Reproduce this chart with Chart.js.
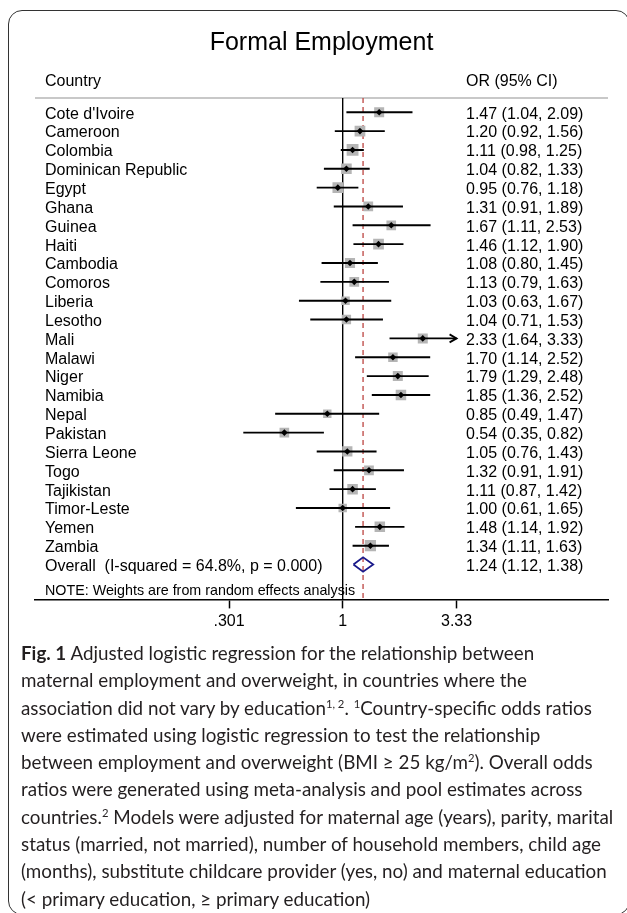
<!DOCTYPE html>
<html>
<head>
<meta charset="utf-8">
<script src="https://cdn.jsdelivr.net/npm/chart.js@4.4.1/dist/chart.umd.min.js"></script>
<style>
  html, body { margin: 0; padding: 0; background: #fff; width: 627px; height: 913px; overflow: hidden; position: relative; }
  #frame { position: absolute; left: 8px; top: 10px; width: 622px; height: 905px; border: 1.5px solid #333; border-radius: 14px; box-sizing: border-box; }
  #wrap { position: absolute; left: 0; top: 0; width: 627px; height: 640px; }
  #c { width: 627px; height: 640px; display: block; }
  #caption { position: absolute; left: 21px; top: 639px; font-family: Lato, "Open Sans", sans-serif; color: #231f20; line-height: 27.3px; white-space: nowrap; font-size: 20px; }
  #caption .ln { height: 27.3px; }
  #caption b { font-weight: 700; }
  #caption sup { font-size: 0.6em; line-height: 0; vertical-align: 0.65em; }
</style>
</head>
<body>
<div id="frame"></div>
<div id="wrap"><canvas id="c" width="627" height="640"></canvas></div>
<div id="caption">
  <div class="ln"><span><b>Fig. 1</b> Adjusted logistic regression for the relationship between</span></div>
  <div class="ln"><span>maternal employment and overweight, in countries where the</span></div>
  <div class="ln"><span>association did not vary by education<sup>1, 2</sup>. <sup>1</sup>Country-specific odds ratios</span></div>
  <div class="ln"><span>were estimated using logistic regression to test the relationship</span></div>
  <div class="ln"><span>between employment and overweight (BMI ≥ 25 kg/m<sup>2</sup>). Overall odds</span></div>
  <div class="ln"><span>ratios were generated using meta-analysis and pool estimates across</span></div>
  <div class="ln"><span>countries.<sup>2</sup> Models were adjusted for maternal age (years), parity, marital</span></div>
  <div class="ln"><span>status (married, not married), number of household members, child age</span></div>
  <div class="ln"><span id="fitLine">(months), substitute childcare provider (yes, no) and maternal education</span></div>
  <div class="ln"><span>(&lt; primary education, ≥ primary education)</span></div>
</div>
<script>
// ---------------- data ----------------
const countries = ["Cote d'Ivoire", "Cameroon", "Colombia", "Dominican Republic", "Egypt", "Ghana", "Guinea", "Haiti",
  "Cambodia", "Comoros", "Liberia", "Lesotho", "Mali", "Malawi", "Niger", "Namibia", "Nepal", "Pakistan",
  "Sierra Leone", "Togo", "Tajikistan", "Timor-Leste", "Yemen", "Zambia"];
const oddsRatios = [1.47, 1.20, 1.11, 1.04, 0.95, 1.31, 1.67, 1.46, 1.08, 1.13, 1.03, 1.04, 2.33, 1.70, 1.79, 1.85, 0.85, 0.54, 1.05, 1.32, 1.11, 1.00, 1.48, 1.34];
const ciLower = [1.04, 0.92, 0.98, 0.82, 0.76, 0.91, 1.11, 1.12, 0.80, 0.79, 0.63, 0.71, 1.64, 1.14, 1.29, 1.36, 0.49, 0.35, 0.76, 0.91, 0.87, 0.61, 1.14, 1.11];
const ciUpper = [2.09, 1.56, 1.25, 1.33, 1.18, 1.89, 2.53, 1.90, 1.45, 1.63, 1.67, 1.53, 3.33, 2.52, 2.48, 2.52, 1.47, 0.82, 1.43, 1.91, 1.42, 1.65, 1.92, 1.63];
// approximate random-effects weights (%)
const weights = [4.0, 4.6, 5.6, 4.5, 4.6, 3.8, 3.7, 4.6, 4.1, 3.8, 2.9, 3.5, 4.0, 3.6, 4.0, 4.4, 2.8, 3.7, 4.2, 3.8, 4.4, 2.8, 4.4, 5.0];
const overallOR = 1.24;
const overallLower = 1.12;
const overallUpper = 1.38;
const overallText = "Overall  (I-squared = 64.8%, p = 0.000)";
const noteText = "NOTE: Weights are from random effects analysis";
const headerLeft = "Country";
const headerRight = "OR (95% CI)";
const titleText = "Formal Employment";
const xTickValues = [0.301, 1, 3.33];
const xTickLabels = [".301", "1", "3.33"];

// ---------------- layout constants ----------------
const FONT = '"Liberation Sans", Arial, Helvetica, sans-serif';
const N = countries.length;
const OVERALL_ROW = N;          // 24
const NOTE_ROW = N + 1.3;
const HEADER_ROW = -1.75;
const RULE_ROW = -0.762;
const Y_MIN = -2.3, Y_MAX = 25.85;
const X_MIN = 0.03878, X_MAX = 16.48;
const X_CLIP = xTickValues[xTickValues.length - 1];
const OR_X = 466;
const TEXT_DY = 2;
const BOX_SCALE = 5.0;

const fmt = v => v.toFixed(2);
const orLabels = oddsRatios.map((v, i) => `${fmt(v)} (${fmt(ciLower[i])}, ${fmt(ciUpper[i])})`);
orLabels.push(`${fmt(overallOR)} (${fmt(overallLower)}, ${fmt(overallUpper)})`);

const leftTicks = [{ value: HEADER_ROW, label: headerLeft }, { value: RULE_ROW, label: "" }]
  .concat(countries.map((c, i) => ({ value: i, label: c })))
  .concat([{ value: OVERALL_ROW, label: overallText }, { value: NOTE_ROW, label: noteText }]);

// ---------------- datasets ----------------
const markerData = oddsRatios.map((v, i) => ({ x: v, y: i }));
const ciData = [];
ciLower.forEach((lo, i) => {
  ciData.push({ x: lo, y: i }, { x: Math.min(ciUpper[i], X_CLIP), y: i }, { x: null, y: null });
});
const DIAMOND_H = 0.38;
const overallDiamond = [
  { x: overallLower, y: OVERALL_ROW }, { x: overallOR, y: OVERALL_ROW - DIAMOND_H },
  { x: overallUpper, y: OVERALL_ROW }, { x: overallOR, y: OVERALL_ROW + DIAMOND_H },
  { x: overallLower, y: OVERALL_ROW }
];

const orColumn = {
  id: 'orColumn',
  afterDraw(chart) {
    const ctx = chart.ctx, y = chart.scales.y;
    ctx.save();
    ctx.font = '16px ' + FONT;
    ctx.fillStyle = '#000';
    ctx.textAlign = 'left';
    ctx.textBaseline = 'middle';
    ctx.fillText(headerRight, OR_X, y.getPixelForValue(HEADER_ROW) + TEXT_DY);
    orLabels.forEach((t, i) => ctx.fillText(t, OR_X, y.getPixelForValue(i) + TEXT_DY));
    ctx.restore();
  }
};
const arrowHeads = {
  id: 'arrowHeads',
  afterDatasetsDraw(chart) {
    const ctx = chart.ctx, x = chart.scales.x, y = chart.scales.y;
    ctx.save();
    ctx.strokeStyle = '#000';
    ctx.lineWidth = 1.8;
    ciUpper.forEach((hi, i) => {
      if (hi >= X_CLIP) {
        const px = x.getPixelForValue(X_CLIP), py = y.getPixelForValue(i);
        ctx.beginPath();
        ctx.moveTo(px - 7, py - 4); ctx.lineTo(px, py); ctx.lineTo(px - 7, py + 4);
        ctx.stroke();
      }
    });
    ctx.restore();
  }
};

new Chart(document.getElementById('c'), {
  type: 'scatter',
  data: {
    datasets: [
      { data: markerData, pointStyle: 'rectRot', pointRadius: 3.3, backgroundColor: '#000', borderWidth: 0 },
      { data: ciData, showLine: true, borderColor: '#000', borderWidth: 1.9, pointRadius: 0, spanGaps: false },
      { data: markerData, pointStyle: 'rect', backgroundColor: '#b5b5b5', borderWidth: 0,
        pointRadius: c => BOX_SCALE * Math.sqrt(weights[c.dataIndex]) / Math.SQRT2 },
      { data: overallDiamond, showLine: true, borderColor: '#1a1a8a', borderWidth: 1.8, pointRadius: 0, fill: false },
      { data: [{ x: overallOR, y: RULE_ROW }, { x: overallOR, y: Y_MAX }], showLine: true, borderColor: '#c0504d',
        borderWidth: 1.4, borderDash: [5, 4], pointRadius: 0 },
      { data: [{ x: 1, y: RULE_ROW }, { x: 1, y: Y_MAX }], showLine: true, borderColor: '#000', borderWidth: 1.4, pointRadius: 0 }
    ]
  },
  options: {
    responsive: false,
    animation: false,
    events: [],
    layout: { padding: { left: 35, right: 19, top: 0, bottom: 4.4 } },
    plugins: {
      legend: { display: false },
      tooltip: { enabled: false },
      title: { display: true, text: titleText, color: '#000', font: { family: FONT, size: 25, weight: 'normal' },
        padding: { top: 28, bottom: 10.9 } }
    },
    scales: {
      x: {
        type: 'logarithmic', position: 'bottom', min: X_MIN, max: X_MAX, bounds: 'data',
        afterBuildTicks: s => { s.ticks = xTickValues.map(v => ({ value: v })); },
        grid: { display: true, drawOnChartArea: false, drawTicks: true, tickLength: 9, tickWidth: 1.5,
          tickColor: '#000', color: 'rgba(0,0,0,0)' },
        border: { display: true, color: '#000', width: 1.5 },
        ticks: { autoSkip: false, maxRotation: 0, padding: 4, color: '#000', font: { family: FONT, size: 16 },
          callback: (v, i) => xTickLabels[i] }
      },
      y: {
        type: 'linear', position: 'left', reverse: true, min: Y_MIN, max: Y_MAX, bounds: 'data',
        afterBuildTicks: s => { s.ticks = leftTicks.map(t => ({ value: t.value })); },
        afterFit: s => { s.width = 0; },
        grid: { display: true, drawTicks: false, lineWidth: 2,
          color: c => (c.tick && c.tick.value === RULE_ROW) ? '#c8c8c8' : 'rgba(0,0,0,0)' },
        border: { display: false },
        ticks: { mirror: true, padding: 10, labelOffset: TEXT_DY, autoSkip: false, color: '#000',
          font: c => ({ family: FONT, size: (c.tick && c.tick.value === NOTE_ROW) ? 14.3 : 16 }),
          callback: (v, i) => leftTicks[i].label }
      }
    }
  },
  plugins: [orColumn, arrowHeads]
});

// fit caption width
(function () {
  const cap = document.getElementById('caption');
  const span = document.getElementById('fitLine');
  const w = span.getBoundingClientRect().width;
  if (w > 0) cap.style.fontSize = (20 * 586 / w).toFixed(2) + 'px';
})();
</script>
</body>
</html>
